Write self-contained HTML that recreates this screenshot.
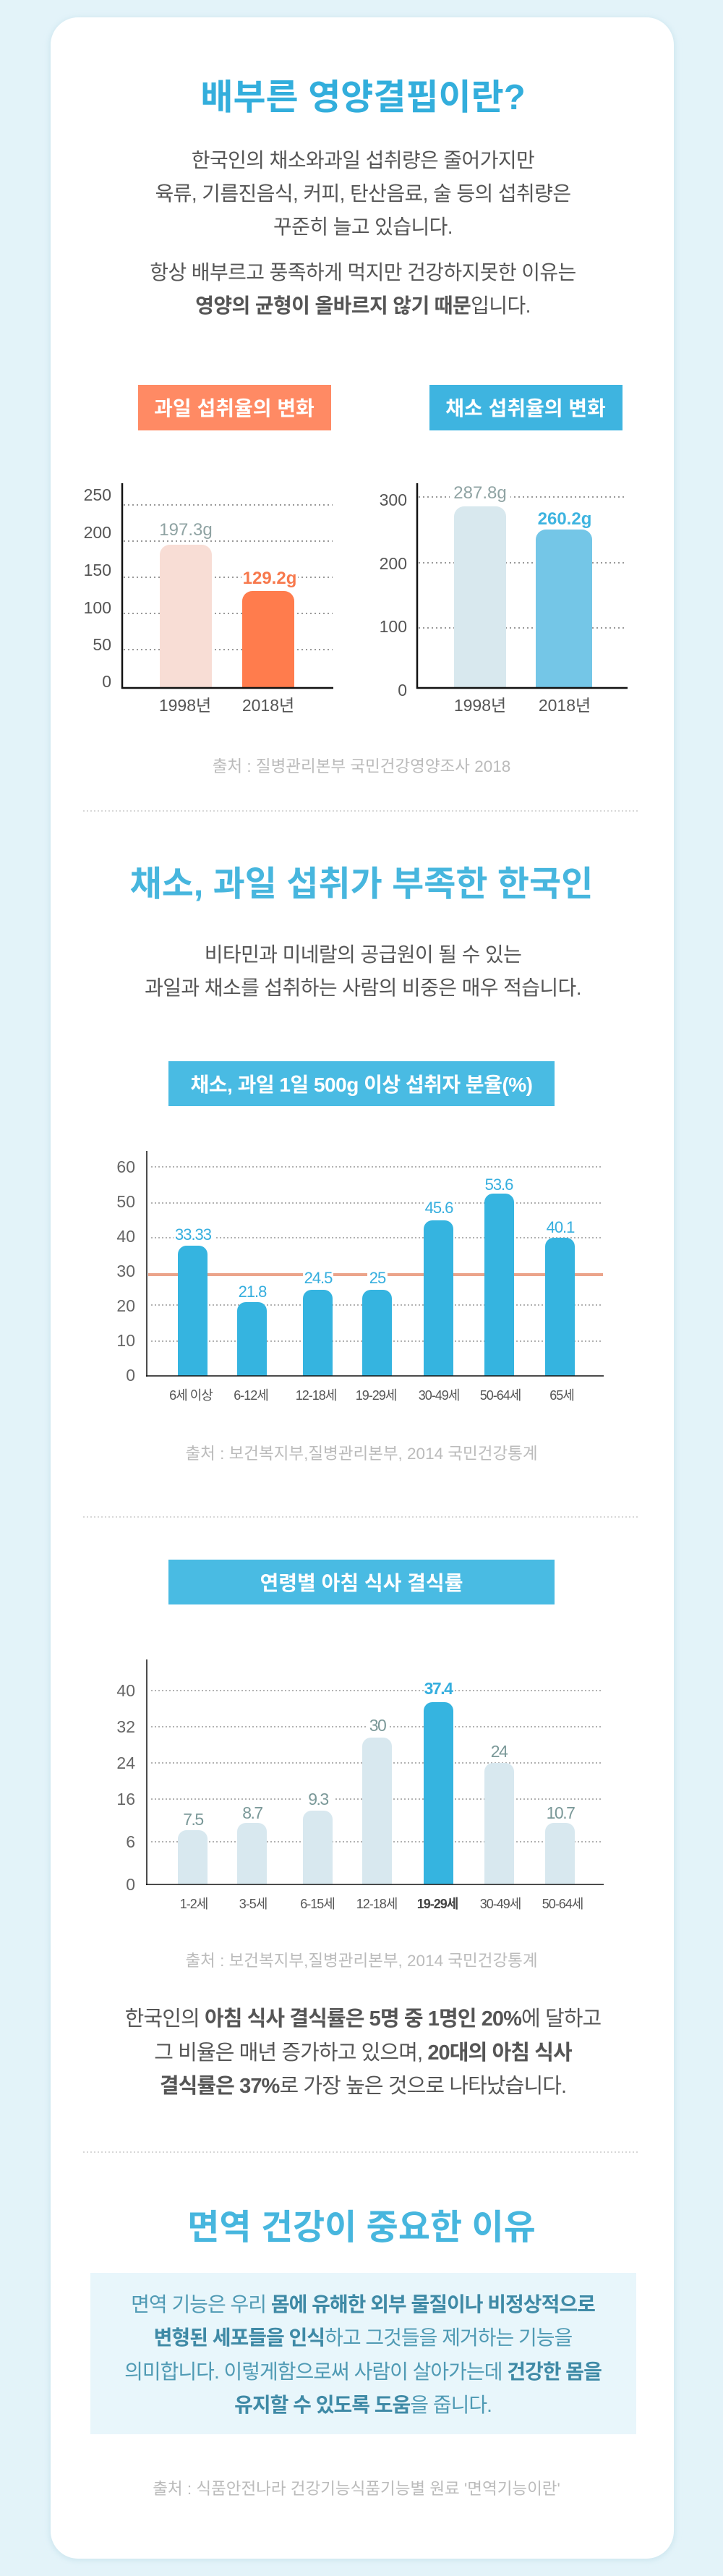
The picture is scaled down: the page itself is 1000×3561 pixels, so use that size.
<!DOCTYPE html>
<html><head><meta charset="utf-8"><style>
html,body{margin:0;padding:0;background:#e3f3f9;}
svg{display:block}
text{font-family:"Liberation Sans","Noto Sans CJK KR",sans-serif;}
</style></head><body>
<svg width="1000" height="3561" viewBox="0 0 1000 3561" xmlns="http://www.w3.org/2000/svg">
<defs><filter id="sh" x="-5%" y="-2%" width="110%" height="104%"><feGaussianBlur stdDeviation="4"/></filter></defs>
<rect width="1000" height="3561" fill="#e3f3f9"/>
<rect x="68" y="24" width="866" height="3516" rx="40" fill="#cde6ef" filter="url(#sh)"/>
<rect x="70" y="24" width="862" height="3513" rx="38" fill="#fff"/>

<!-- Section 1 -->
<text x="502" y="151" text-anchor="middle" font-size="49" font-weight="bold" fill="#33aedc">배부른 영양결핍이란?</text>
<g font-size="28" fill="#555" text-anchor="middle" letter-spacing="-0.6">
<text x="502" y="231">한국인의 채소와과일 섭취량은 줄어가지만</text>
<text x="502" y="277">육류, 기름진음식, 커피, 탄산음료, 술 등의 섭취량은</text>
<text x="502" y="323">꾸준히 늘고 있습니다.</text>
<text x="502" y="386">항상 배부르고 풍족하게 먹지만 건강하지못한 이유는</text>
<text x="502" y="432"><tspan font-weight="bold">영양의 균형이 올바르지 않기 때문</tspan>입니다.</text>
</g>
<rect x="191" y="532" width="267" height="63" fill="#ff8a64"/>
<text x="324" y="574" text-anchor="middle" font-size="28" font-weight="bold" fill="#fff">과일 섭취율의 변화</text>
<rect x="594" y="532" width="267" height="63" fill="#3eb4e0"/>
<text x="727" y="574" text-anchor="middle" font-size="28" font-weight="bold" fill="#fff">채소 섭취율의 변화</text>

<!-- chart 1 -->
<g stroke="#999" stroke-width="2" stroke-dasharray="2 4">
<line x1="171" y1="698" x2="460" y2="698"/><line x1="171" y1="748" x2="460" y2="748"/>
<line x1="171" y1="798" x2="460" y2="798"/><line x1="171" y1="848" x2="460" y2="848"/>
<line x1="171" y1="898" x2="460" y2="898"/>
</g>
<g font-size="23" fill="#555" text-anchor="end">
<text x="154" y="692">250</text><text x="154" y="744">200</text><text x="154" y="796">150</text>
<text x="154" y="848">100</text><text x="154" y="899">50</text><text x="154" y="950">0</text>
</g>
<path d="M221 951 V767 a14 14 0 0 1 14 -14 H279 a14 14 0 0 1 14 14 V951Z" fill="#f8ddd5"/>
<path d="M335 951 V831 a14 14 0 0 1 14 -14 H393 a14 14 0 0 1 14 14 V951Z" fill="#ff7c4d"/>
<rect x="224" y="718" width="66" height="26" fill="#fff"/>
<text x="257" y="740" text-anchor="middle" font-size="24" fill="#8fa3a3">197.3g</text>
<rect x="334" y="785" width="78" height="26" fill="#fff"/>
<text x="373" y="807" text-anchor="middle" font-size="24" font-weight="bold" fill="#f7794d">129.2g</text>
<line x1="169" y1="668" x2="169" y2="952" stroke="#111" stroke-width="2.5"/>
<line x1="168" y1="951" x2="461" y2="951" stroke="#111" stroke-width="2.5"/>
<text x="256" y="983" text-anchor="middle" font-size="23" fill="#555">1998년</text>
<text x="371" y="983" text-anchor="middle" font-size="23" fill="#555">2018년</text>

<!-- chart 2 -->
<g stroke="#999" stroke-width="2" stroke-dasharray="2 4">
<line x1="579" y1="687" x2="867" y2="687"/><line x1="579" y1="778" x2="867" y2="778"/>
<line x1="579" y1="868" x2="867" y2="868"/>
</g>
<g font-size="23" fill="#555" text-anchor="end">
<text x="563" y="699">300</text><text x="563" y="787">200</text><text x="563" y="874">100</text><text x="563" y="962">0</text>
</g>
<path d="M628 951 V714 a14 14 0 0 1 14 -14 H686 a14 14 0 0 1 14 14 V951Z" fill="#d8e8ee"/>
<path d="M741 951 V746 a14 14 0 0 1 14 -14 H805 a14 14 0 0 1 14 14 V951Z" fill="#74c6e7"/>
<rect x="622" y="668" width="84" height="26" fill="#fff"/>
<text x="664" y="689" text-anchor="middle" font-size="24" fill="#8fa3a3">287.8g</text>
<text x="781" y="725" text-anchor="middle" font-size="24" font-weight="bold" fill="#3eb4e0">260.2g</text>
<line x1="577" y1="668" x2="577" y2="952" stroke="#111" stroke-width="2.5"/>
<line x1="576" y1="951" x2="868" y2="951" stroke="#111" stroke-width="2.5"/>
<text x="664" y="983" text-anchor="middle" font-size="23" fill="#555">1998년</text>
<text x="781" y="983" text-anchor="middle" font-size="23" fill="#555">2018년</text>
<text x="500" y="1067" text-anchor="middle" font-size="22.5" fill="#bbb">출처 : 질병관리본부 국민건강영양조사 2018</text>

<line x1="115" y1="1121" x2="885" y2="1121" stroke="#ccc" stroke-width="1.5" stroke-dasharray="2 3"/>

<!-- Section 2 -->
<text x="500" y="1238" text-anchor="middle" font-size="48" font-weight="bold" fill="#47b6de">채소, 과일 섭취가 부족한 한국인</text>
<g font-size="28" fill="#555" text-anchor="middle" letter-spacing="-0.6">
<text x="502" y="1329">비타민과 미네랄의 공급원이 될 수 있는</text>
<text x="502" y="1375">과일과 채소를 섭취하는 사람의 비중은 매우 적습니다.</text>
</g>
<rect x="233" y="1467" width="534" height="62" fill="#49bbe3"/>
<text x="500" y="1509" text-anchor="middle" font-size="28" font-weight="bold" fill="#fff" letter-spacing="-0.5">채소, 과일 1일 500g 이상 섭취자 분율(%)</text>

<g stroke="#999" stroke-width="1.5" stroke-dasharray="2 3">
<line x1="209" y1="1613" x2="834" y2="1613"/><line x1="209" y1="1663" x2="834" y2="1663"/>
<line x1="209" y1="1711" x2="834" y2="1711"/><line x1="209" y1="1804" x2="834" y2="1804"/>
<line x1="209" y1="1854" x2="834" y2="1854"/>
</g>
<line x1="205" y1="1762" x2="834" y2="1762" stroke="#eba48a" stroke-width="4"/>
<g font-size="23" fill="#666" text-anchor="end">
<text x="187" y="1621">60</text><text x="187" y="1669">50</text><text x="187" y="1717">40</text>
<text x="187" y="1765">30</text><text x="187" y="1813">20</text><text x="187" y="1861">10</text><text x="187" y="1909">0</text>
</g>
<g fill="#35b4e0">
<path d="M246 1902 V1734 a12 12 0 0 1 12 -12 H275 a12 12 0 0 1 12 12 V1902Z"/>
<path d="M328 1902 V1812 a12 12 0 0 1 12 -12 H357 a12 12 0 0 1 12 12 V1902Z"/>
<path d="M419 1902 V1795 a12 12 0 0 1 12 -12 H448 a12 12 0 0 1 12 12 V1902Z"/>
<path d="M501 1902 V1795 a12 12 0 0 1 12 -12 H530 a12 12 0 0 1 12 12 V1902Z"/>
<path d="M586 1902 V1699 a12 12 0 0 1 12 -12 H615 a12 12 0 0 1 12 12 V1902Z"/>
<path d="M670 1902 V1662 a12 12 0 0 1 12 -12 H699 a12 12 0 0 1 12 12 V1902Z"/>
<path d="M754 1902 V1723 a12 12 0 0 1 12 -12 H783 a12 12 0 0 1 12 12 V1902Z"/>
</g>
<g fill="#fff">
<rect x="240" y="1697" width="56" height="20"/><rect x="419" y="1757" width="42" height="20"/>
<rect x="508" y="1757" width="28" height="20"/><rect x="586" y="1660" width="42" height="20"/>
<rect x="670" y="1628" width="42" height="20"/><rect x="754" y="1687" width="42" height="20"/>
</g>
<g font-size="22" fill="#35aede" text-anchor="middle" letter-spacing="-1">
<text x="267" y="1714">33.33</text><text x="349" y="1793">21.8</text><text x="440" y="1774">24.5</text>
<text x="522" y="1774">25</text><text x="607" y="1677">45.6</text><text x="690" y="1645">53.6</text><text x="775" y="1704">40.1</text>
</g>
<line x1="203" y1="1591" x2="203" y2="1903" stroke="#111" stroke-width="1.5"/>
<line x1="202" y1="1902" x2="835" y2="1902" stroke="#111" stroke-width="1.5"/>
<g font-size="18" fill="#555" text-anchor="middle" letter-spacing="-1">
<text x="264" y="1935">6세 이상</text><text x="347" y="1935">6-12세</text><text x="437" y="1935">12-18세</text>
<text x="520" y="1935">19-29세</text><text x="607" y="1935">30-49세</text><text x="692" y="1935">50-64세</text><text x="777" y="1935">65세</text>
</g>
<text x="500" y="2017" text-anchor="middle" font-size="22.5" fill="#bbb">출처 : 보건복지부,질병관리본부, 2014 국민건강통계</text>

<line x1="115" y1="2097" x2="885" y2="2097" stroke="#ccc" stroke-width="1.5" stroke-dasharray="2 3"/>

<!-- Section 3 -->
<rect x="233" y="2156" width="534" height="62" fill="#49bbe3"/>
<text x="500" y="2198" text-anchor="middle" font-size="28" font-weight="bold" fill="#fff">연령별 아침 식사 결식률</text>
<g stroke="#999" stroke-width="1.5" stroke-dasharray="2 3">
<line x1="209" y1="2337" x2="834" y2="2337"/><line x1="209" y1="2387" x2="834" y2="2387"/>
<line x1="209" y1="2437" x2="834" y2="2437"/><line x1="209" y1="2487" x2="834" y2="2487"/>
<line x1="209" y1="2546" x2="834" y2="2546"/>
</g>
<g font-size="23" fill="#666" text-anchor="end">
<text x="187" y="2345">40</text><text x="187" y="2395">32</text><text x="187" y="2445">24</text>
<text x="187" y="2495">16</text><text x="187" y="2554">6</text><text x="187" y="2613">0</text>
</g>
<g fill="#d8e8ef">
<path d="M246 2605 V2542 a12 12 0 0 1 12 -12 H275 a12 12 0 0 1 12 12 V2605Z"/>
<path d="M328 2605 V2532 a12 12 0 0 1 12 -12 H357 a12 12 0 0 1 12 12 V2605Z"/>
<path d="M419 2605 V2515 a12 12 0 0 1 12 -12 H448 a12 12 0 0 1 12 12 V2605Z"/>
<path d="M501 2605 V2414 a12 12 0 0 1 12 -12 H530 a12 12 0 0 1 12 12 V2605Z"/>
<path d="M670 2605 V2449 a12 12 0 0 1 12 -12 H699 a12 12 0 0 1 12 12 V2605Z"/>
<path d="M754 2605 V2532 a12 12 0 0 1 12 -12 H783 a12 12 0 0 1 12 12 V2605Z"/>
</g>
<path d="M586 2605 V2365 a12 12 0 0 1 12 -12 H615 a12 12 0 0 1 12 12 V2605Z" fill="#35b4e0"/>
<g fill="#fff">
<rect x="586" y="2322" width="42" height="20"/><rect x="508" y="2373" width="28" height="20"/>
<rect x="419" y="2476" width="42" height="20"/>
</g>
<g font-size="23" fill="#7a9898" text-anchor="middle" letter-spacing="-1.5">
<text x="267" y="2523">7.5</text><text x="349" y="2514">8.7</text><text x="440" y="2495">9.3</text>
<text x="522" y="2393">30</text><text x="690" y="2429">24</text><text x="775" y="2514">10.7</text>
</g>
<text x="606" y="2342" text-anchor="middle" font-size="23" font-weight="bold" fill="#35aede" letter-spacing="-1.5">37.4</text>
<line x1="203" y1="2294" x2="203" y2="2606" stroke="#111" stroke-width="1.5"/>
<line x1="202" y1="2605" x2="835" y2="2605" stroke="#111" stroke-width="1.5"/>
<g font-size="18" fill="#555" text-anchor="middle" letter-spacing="-1">
<text x="268" y="2638">1-2세</text><text x="350" y="2638">3-5세</text><text x="439" y="2638">6-15세</text>
<text x="521" y="2638">12-18세</text><text x="605" y="2638" font-weight="bold" fill="#444">19-29세</text><text x="692" y="2638">30-49세</text><text x="778" y="2638">50-64세</text>
</g>
<text x="500" y="2718" text-anchor="middle" font-size="22.5" fill="#bbb">출처 : 보건복지부,질병관리본부, 2014 국민건강통계</text>
<g font-size="29" fill="#555" text-anchor="middle" letter-spacing="-0.9">
<text x="502" y="2800">한국인의 <tspan font-weight="bold">아침 식사 결식률은 5명 중 1명인 20%</tspan>에 달하고</text>
<text x="502" y="2847">그 비율은 매년 증가하고 있으며, <tspan font-weight="bold">20대의 아침 식사</tspan></text>
<text x="502" y="2893"><tspan font-weight="bold">결식률은 37%</tspan>로 가장 높은 것으로 나타났습니다.</text>
</g>

<line x1="115" y1="2975" x2="885" y2="2975" stroke="#ccc" stroke-width="1.5" stroke-dasharray="2 3"/>

<!-- Section 4 -->
<text x="500" y="3095" text-anchor="middle" font-size="48" font-weight="bold" fill="#47b6de">면역 건강이 중요한 이유</text>
<rect x="125" y="3142" width="755" height="223" fill="#e8f6fb"/>
<g font-size="28" fill="#4f9ab4" text-anchor="middle" letter-spacing="-1">
<text x="502" y="3195">면역 기능은 우리 <tspan font-weight="bold" fill="#3f8aa6">몸에 유해한 외부 물질이나 비정상적으로</tspan></text>
<text x="502" y="3241"><tspan font-weight="bold" fill="#3f8aa6">변형된 세포들을 인식</tspan>하고 그것들을 제거하는 기능을</text>
<text x="502" y="3288">의미합니다. 이렇게함으로써 사람이 살아가는데 <tspan font-weight="bold" fill="#3f8aa6">건강한 몸을</tspan></text>
<text x="502" y="3334"><tspan font-weight="bold" fill="#3f8aa6">유지할 수 있도록 도움</tspan>을 줍니다.</text>
</g>
<text x="493" y="3448" text-anchor="middle" font-size="22.5" fill="#bbb">출처 : 식품안전나라 건강기능식품기능별 원료 '면역기능이란'</text>
</svg>
</body></html>
